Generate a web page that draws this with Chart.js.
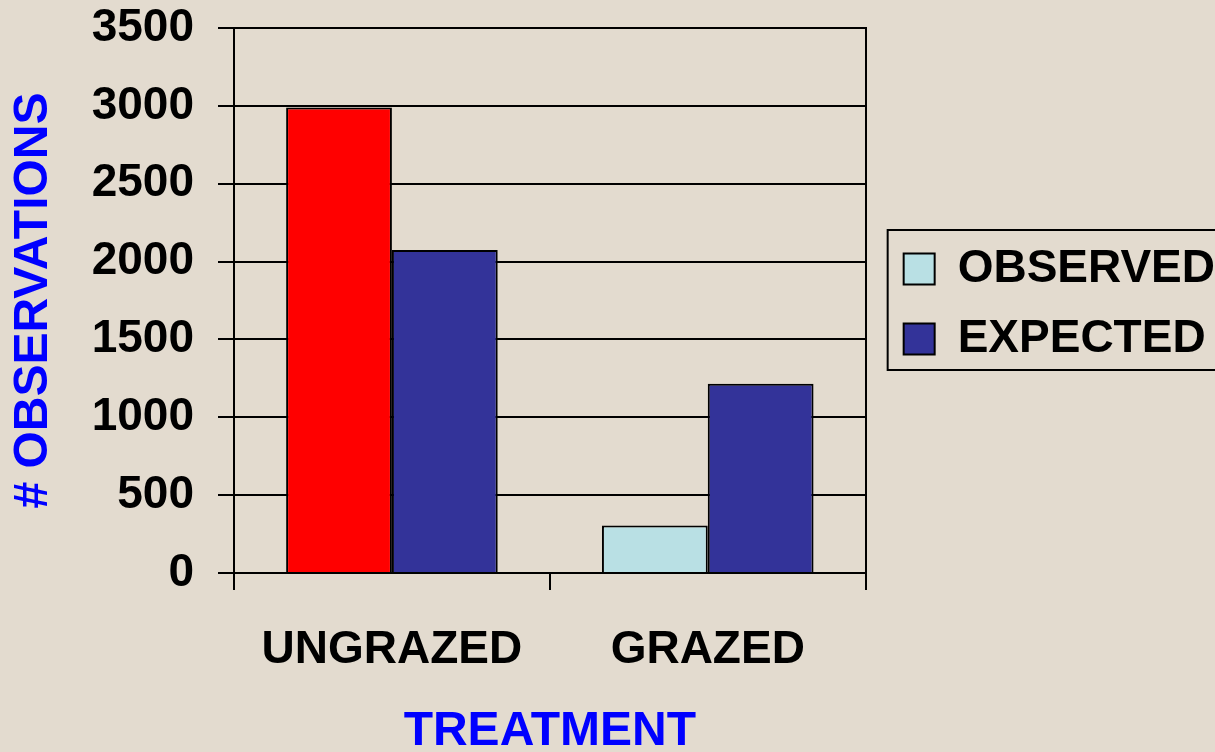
<!DOCTYPE html>
<html>
<head>
<meta charset="utf-8">
<script src="https://cdn.jsdelivr.net/npm/chart.js@4/dist/chart.umd.min.js"></script>
<style>
    html, body { margin: 0; padding: 0; background: #e3dbcf; }
    #wrap { width: 1215px; height: 752px; }
</style>
</head>
<body>
<div id="wrap"><canvas id="myChart"></canvas></div>
<script>
var categories = ['UNGRAZED', 'GRAZED'];
var observed = [2990, 305];
var expected = [2075, 1215];
var yTicks = [0, 500, 1000, 1500, 2000, 2500, 3000, 3500];

var fontFamily = 'Arial, "Liberation Sans", sans-serif';

// draws a frame around the legend, like the old excel one
var legendFrame = {
    id: 'legendFrame',
    afterDraw(chart) {
        var lg = chart.legend;
        if (!lg || !lg.legendHitBoxes || !lg.legendHitBoxes.length) return;
        var first = lg.legendHitBoxes[0];
        var last = lg.legendHitBoxes[lg.legendHitBoxes.length - 1];
        var ctx = chart.ctx;
        ctx.save();
        ctx.strokeStyle = '#000';
        ctx.lineWidth = 2;
        ctx.strokeRect(first.left - 16, first.top - 16, chart.width + 20 - first.left, last.top + last.height - first.top + 24);
        ctx.restore();
    }
};

function loadChart() {
    const ctx = document.getElementById('myChart').getContext('2d');

    const myChart = new Chart(ctx, {
        type: 'bar',
        data: {
            labels: categories,
            datasets: [{
                label: 'OBSERVED',
                data: observed,
                backgroundColor: ['#ff0000', '#b9e0e4'],
                borderColor: '#000',
                borderWidth: 2,
                barPercentage: 1,
                categoryPercentage: 0.67
            }, {
                label: 'EXPECTED',
                data: expected,
                backgroundColor: '#333399',
                borderColor: '#000',
                borderWidth: 2,
                barPercentage: 1,
                categoryPercentage: 0.67
            }]
        },
        options: {
            responsive: true,
            maintainAspectRatio: false,
            animation: false,
            layout: {
                padding: { left: 0, right: -10, top: 0, bottom: -4 }
            },
            scales: {
                x: {
                    z: 1,
                    afterFit: (scale) => { scale.height = 183; },
                    grid: {
                        color: '#000',
                        lineWidth: 2,
                        drawOnChartArea: false,
                        tickLength: 17,
                        offset: true
                    },
                    border: { color: '#000', width: 2 },
                    ticks: {
                        color: '#000',
                        padding: 33,
                        font: { size: 46, weight: 'bold', family: fontFamily }
                    },
                    title: {
                        display: true,
                        text: 'TREATMENT',
                        color: '#0000ff',
                        padding: { top: 24, bottom: 0 },
                        font: { size: 48, weight: 'bold', family: fontFamily, lineHeight: 1 }
                    }
                },
                y: {
                    min: 0,
                    max: 3500,
                    afterBuildTicks: (scale) => {
                        scale.ticks = yTicks.map(v => ({ value: v }));
                    },
                    afterFit: (scale) => {
                        scale.width = 234;
                        scale.paddingTop = 28;
                        scale.paddingBottom = 0;
                    },
                    grid: {
                        color: '#000',
                        lineWidth: 2,
                        tickLength: 16
                    },
                    border: { color: '#000', width: 2 },
                    ticks: {
                        color: '#000',
                        padding: 24,
                        callback: (v) => String(v),
                        font: { size: 46, weight: 'bold', family: fontFamily }
                    },
                    title: {
                        display: true,
                        text: '# OBSERVATIONS',
                        color: '#0000ff',
                        padding: { top: 10, bottom: 20 },
                        font: { size: 48, weight: 'bold', family: fontFamily, lineHeight: 1 }
                    }
                },
                y2: {
                    position: 'right',
                    min: 0,
                    max: 3500,
                    grid: { drawOnChartArea: false, drawTicks: false },
                    border: { color: '#000', width: 2 },
                    ticks: { display: false },
                    afterFit: (scale) => { scale.width = 14; scale.paddingTop = 0; scale.paddingBottom = 0; }
                }
            },
            plugins: {
                legend: {
                    position: 'right',
                    align: 'start',
                    maxWidth: 360,
                    title: {
                        display: true,
                        text: ' ',
                        font: { size: 10 },
                        padding: { top: 210, bottom: 0 }
                    },
                    labels: {
                        color: '#000',
                        boxWidth: 31,
                        boxHeight: 31,
                        padding: 24,
                        font: { size: 46, weight: 'bold', family: fontFamily },
                        generateLabels: (chart) => [
                            { text: 'OBSERVED', fillStyle: '#b9e0e4', strokeStyle: '#000', fontColor: '#000', lineWidth: 2, datasetIndex: 0 },
                            { text: 'EXPECTED', fillStyle: '#333399', strokeStyle: '#000', fontColor: '#000', lineWidth: 2, datasetIndex: 1 }
                        ]
                    }
                },
                tooltip: { enabled: false }
            }
        },
        plugins: [legendFrame]
    });
}

loadChart();
</script>
</body>
</html>
